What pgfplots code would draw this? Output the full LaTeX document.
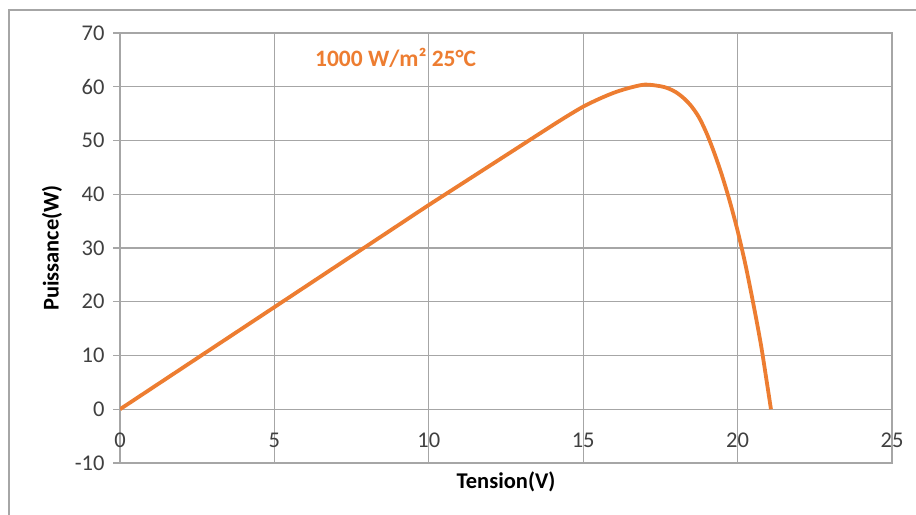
\documentclass[border=0pt]{standalone}
\usepackage{pgfplots}
\pgfplotsset{compat=1.18}
\usepackage{fontspec}
\setmainfont{Carlito}

\definecolor{curveorange}{RGB}{237,125,49}
\definecolor{gridgray}{RGB}{166,166,166}
\definecolor{ticktext}{RGB}{64,64,64}

% P-V characteristic of the panel: voltage (V), power (W)
\pgfplotstableread{
V      P
0      0
1      3.8
2      7.6
3      11.4
4      15.2
5      19.0
6      22.8
7      26.6
8      30.4
9      34.2
10     38.0
11     41.7
12     45.4
13     49.1
14     52.8
14.5   54.6
15     56.3
15.5   57.7
16     58.9
16.5   59.8
17     60.4
17.5   60.1
17.75  59.7
18     59.0
18.25  57.9
18.5   56.4
18.75  54.3
19     51.3
19.25  47.6
19.5   43.4
19.75  38.6
20     33.2
20.25  27.0
20.5   19.9
20.75  12.2
20.95  4.9
21.08  0
}\pvdata

\begin{document}
\begin{tikzpicture}
\path[use as bounding box] (0,0) rectangle (916bp,515bp);
% outer frame
\draw[gridgray, line width=1.2bp] (9bp,0) -- (9bp,505bp) -- (916bp,505bp);
\begin{axis}[
  at={(120bp,52bp)}, anchor=south west,
  scale only axis,
  width=772bp, height=430bp,
  xmin=0, xmax=25, ymin=-10, ymax=70,
  xtick={0,5,...,25}, ytick={-10,0,...,70},
  grid=major,
  major grid style={gridgray, line width=1.2bp},
  axis line style={gridgray, line width=1.2bp},
  tick align=outside,
  major tick length=7bp,
  ytick pos=left,
  xtick style={draw=none},
  ytick style={gridgray, line width=1.2bp},
  /pgf/number format/assume math mode=true,
  tick label style={font=\fontsize{22.5bp}{26bp}\selectfont, text=ticktext},
  xticklabel style={anchor=center, yshift=30bp},
  yticklabel style={xshift=-5bp},
  xlabel={Tension(V)},
  ylabel={Puissance(W)},
  every axis x label/.style={at={(axis description cs:0.5,-0.044)}, anchor=center,
    font=\fontsize{22.5bp}{26bp}\selectfont\bfseries},
  every axis y label/.style={at={(axis description cs:-0.088,0.5)}, rotate=90, anchor=center,
    font=\fontsize{22.5bp}{26bp}\selectfont\bfseries},
]
\addplot[curveorange, line width=3.8bp, smooth, tension=0.5] table[x=V, y=P] {\pvdata};
\node[text=curveorange, font=\fontsize{23.5bp}{27bp}\selectfont\bfseries] at (rel axis cs:0.357,0.942) {1000 W/m² 25°C};
\end{axis}
\end{tikzpicture}
\end{document}
